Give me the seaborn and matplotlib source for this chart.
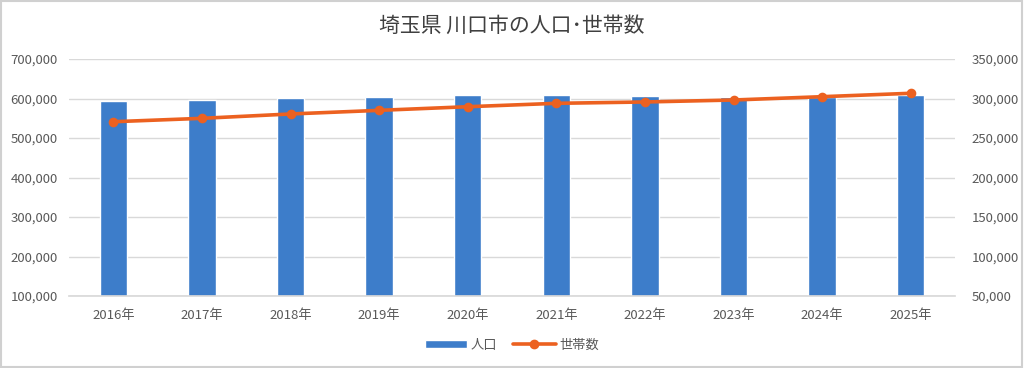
import matplotlib
matplotlib.use("Agg")
import matplotlib.pyplot as plt
from matplotlib.lines import Line2D
from matplotlib.patches import Patch, Rectangle
from matplotlib.ticker import FuncFormatter
import pandas as pd
import seaborn as sns

# ─── Data ─────────────────────────────────
years = ["2016年", "2017年", "2018年", "2019年", "2020年",
         "2021年", "2022年", "2023年", "2024年", "2025年"]
population = [593700, 595400, 600400, 604600, 608000,
              608000, 606000, 604600, 604000, 608000]
households = [270600, 274900, 280400, 285000, 289600,
              293900, 295600, 298100, 302300, 306600]

BAR_COLOR = "#3d7dca"
LINE_COLOR = "#ec6120"
TEXT_COLOR = "#595959"

sns.set_theme(style="white")
plt.rcParams["font.family"] = ["Noto Sans CJK JP", "DejaVu Sans"]

df = pd.DataFrame({"year": years, "population": population, "households": households})

fig = plt.figure(figsize=(10.24, 3.68), dpi=100)
ax = fig.add_axes([69 / 1024, 1 - 296 / 368, 886 / 1024, 237 / 368])

# bars: population (left axis)
sns.barplot(data=df, x="year", y="population", color=BAR_COLOR,
            width=0.31, saturation=1, ax=ax, zorder=2)
ax.set_ylim(100000, 700000)
ax.set_yticks(range(100000, 700001, 100000))
ax.yaxis.grid(True, color="#d9d9d9", linewidth=1, zorder=0)
ax.set_axisbelow(True)

# line: households (right axis)
ax2 = ax.twinx()
sns.pointplot(data=df, x="year", y="households", color=LINE_COLOR,
              markers="o", linestyles="-", ax=ax2,
              markersize=5, linewidth=2.6)
ax2.set_ylim(50000, 350000)
ax2.set_yticks(range(50000, 350001, 50000))

fmt = FuncFormatter(lambda v, _: f"{int(v):,}")
for a in (ax, ax2):
    a.yaxis.set_major_formatter(fmt)
    a.set_xlabel("")
    a.set_ylabel("")
    for s in a.spines.values():
        s.set_visible(False)
    a.tick_params(axis="both", length=0, labelsize=9.5, labelcolor=TEXT_COLOR, pad=8)
ax.spines["bottom"].set_visible(True)
ax.spines["bottom"].set_color("#d9d9d9")
ax.tick_params(axis="x", pad=9)
ax2.tick_params(axis="y", pad=12)

fig.text(0.5, 1 - 26 / 368, "埼玉県 川口市の人口･世帯数", ha="center", va="center",
         fontsize=15, color="#404040")

handles = [Patch(facecolor=BAR_COLOR, label="人口"),
           Line2D([0], [0], color=LINE_COLOR, linewidth=2.6, marker="o",
                  markersize=6, label="世帯数")]
fig.legend(handles=handles, loc="center", bbox_to_anchor=(0.5, 1 - 345 / 368),
           ncol=2, frameon=False, fontsize=9.5, labelcolor=TEXT_COLOR,
           handlelength=3.2, handleheight=0.6, columnspacing=1.2, handletextpad=0.3)

fig.patches.append(Rectangle((0.001, 0.002), 0.997, 0.995, transform=fig.transFigure,
                             fill=False, edgecolor="#d0d0d0", linewidth=1.5))

fig.savefig("out.png", dpi=100)
